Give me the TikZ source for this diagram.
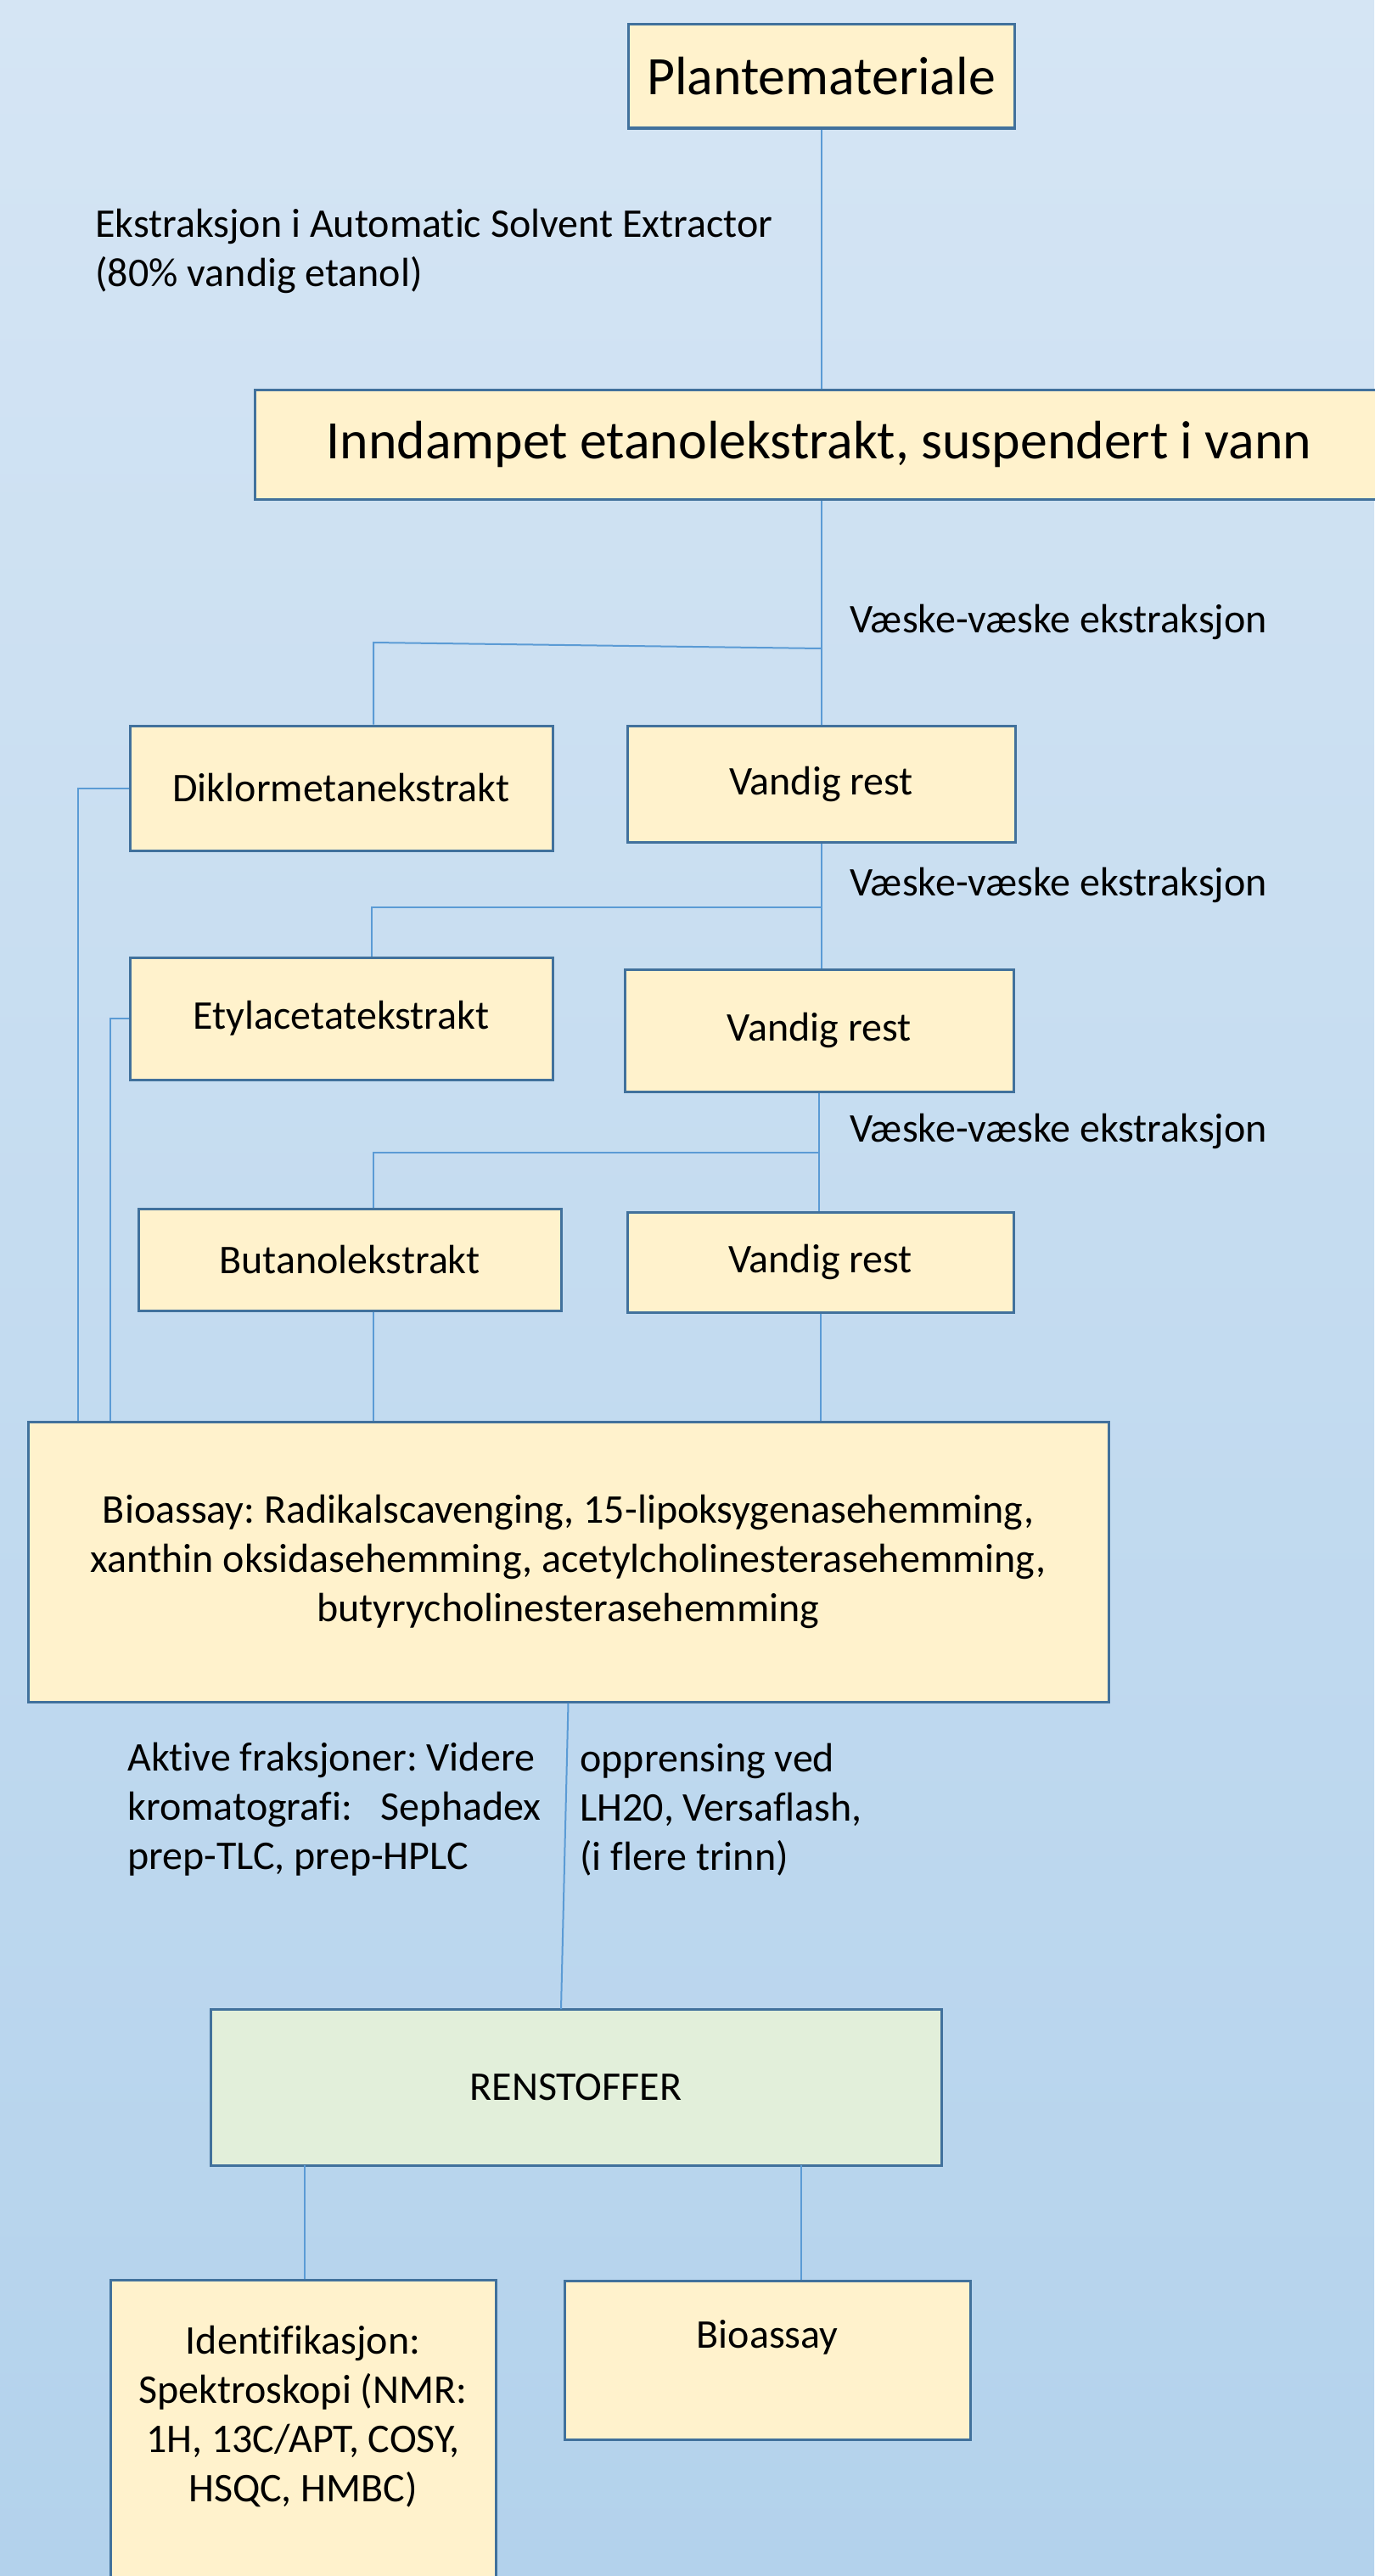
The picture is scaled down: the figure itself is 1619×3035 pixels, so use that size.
\documentclass[tikz,border=0pt]{standalone}
\usepackage{fontspec}
\setmainfont{Carlito}[Ligatures=NoCommon]
\frenchspacing
\definecolor{bgtop}{RGB}{213,229,244}
\definecolor{bgbot}{RGB}{179,210,236}
\definecolor{boxfill}{RGB}{255,242,204}
\definecolor{greenfill}{RGB}{226,239,218}
\definecolor{boxline}{RGB}{65,113,156}
\definecolor{conline}{RGB}{91,155,213}
\newcommand\fsnorm{\fontsize{24}{29}\selectfont}
\newcommand\fslarge{\fontsize{31.9}{38}\selectfont}
\tikzset{
  box/.style={draw=boxline, line width=1.5pt, fill=boxfill, inner sep=0pt, align=center, font=\fsnorm, text=black},
  sz/.style 2 args={minimum width=#1*0.5pt, minimum height=#2*0.5pt},
  txt/.style={inner sep=0pt, font=\fsnorm, text=black},
  con/.style={draw=conline, line width=1pt}
}
\begin{document}
\begin{tikzpicture}[x=0.5pt,y=-0.5pt]
\shade[top color=bgtop,bottom color=bgbot] (0,0) rectangle (1619,3035);
\useasboundingbox (0,0) rectangle (1619,3035);

% boxes
\node[box, font=\fslarge, sz={455}{122}] (plant) at (967.5,90) {Plantemateriale};
\node[box, font=\fslarge, sz={1330}{129}] (inndamp) at (965,523.5) {Inndampet etanolekstrakt, suspendert i vann};
\node[box, sz={498}{147}] (dikl) at (402,928.5) {Diklormetanekstrakt};
\node[box, sz={457}{137}] (vr1) at (967.5,923.5) {Vandig rest};
\node[box, sz={498}{144}] (etyl) at (402,1200) {Etylacetatekstrakt};
\node[box, sz={458}{144}] (vr2) at (965,1214) {Vandig rest};
\node[box, sz={498}{120}] (but) at (412,1484) {Butanolekstrakt};
\node[box, sz={455}{118}] (vr3) at (966.5,1487) {Vandig rest};
\node[box, sz={1273}{330}] (bio) at (669.5,1840) {Bioassay: Radikalscavenging, 15-lipoksygenasehemming,\\xanthin oksidasehemming, acetylcholinesterasehemming,\\butyrycholinesterasehemming};
\node[box, fill=greenfill, sz={861}{184}] (ren) at (678.5,2459) {RENSTOFFER};
\node[box, sz={454}{400}] (ident) at (357,2886) {};
\node[txt, align=center] (identtxt) at (357,2847) {Identifikasjon:\\Spektroskopi (NMR:\\1H, 13C/APT, COSY,\\HSQC, HMBC)};
\node[box, sz={478}{187}] (bio2) at (904,2780.5) {};
\node[txt] (bio2txt) at (904,2754) {Bioassay};

% free labels
\node[txt, anchor=west, align=left] (ekstr) at (112,296) {Ekstraksjon i Automatic Solvent Extractor\\(80\% vandig etanol)};
\node[txt, anchor=west] (vv1) at (1001,733) {Væske-væske ekstraksjon};
\node[txt, anchor=west] (vv2) at (1001,1043) {Væske-væske ekstraksjon};
\node[txt, anchor=west] (vv3) at (1001,1333) {Væske-væske ekstraksjon};
\node[txt, anchor=west, align=left] (aktive) at (150,2132) {Aktive fraksjoner: Videre\\kromatografi:\hspace{17pt}Sephadex\\prep-TLC, prep-HPLC};
\node[txt, anchor=west, align=left] (oppr) at (683,2132) {opprensing ved\\LH20, Versaflash,\\(i flere trinn)};

% connectors
\coordinate (j1) at (967.5,764);
\coordinate (j1l) at (440,757);
\coordinate (j2) at (967.5,1069);
\coordinate (j2l) at (438,1069);
\coordinate (j3) at (965,1358);
\coordinate (j3l) at (440,1358);
\coordinate (d1) at (92,928.5);
\coordinate (e1) at (130,1200);
\coordinate (r1) at (661,2367);
\coordinate (r2) at (359,2551);
\coordinate (r3) at (944,2551);

\draw[con] (plant.south) -- (plant.south |- inndamp.north);
\draw[con] (inndamp.south -| vr1.north) -- (vr1.north);
\draw[con] (j1) -- (j1l) -- (j1l |- dikl.north);
\draw[con] (vr1.south) -- (vr1.south |- vr2.north);
\draw[con] (j2) -- (j2l) -- (j2l |- etyl.north);
\draw[con] (vr2.south) -- (vr2.south |- vr3.north);
\draw[con] (j3) -- (j3l) -- (j3l |- but.north);
\draw[con] (dikl.west) -- (d1) -- (d1 |- bio.north);
\draw[con] (etyl.west) -- (e1) -- (e1 |- bio.north);
\draw[con] (but.south -| j3l) -- (j3l |- bio.north);
\draw[con] (vr3.south) -- (vr3.south |- bio.north);
\draw[con] (bio.south) -- (r1);
\draw[con] (r2) -- (r2 |- ident.north);
\draw[con] (r3) -- (r3 |- bio2.north);
\end{tikzpicture}
\end{document}
